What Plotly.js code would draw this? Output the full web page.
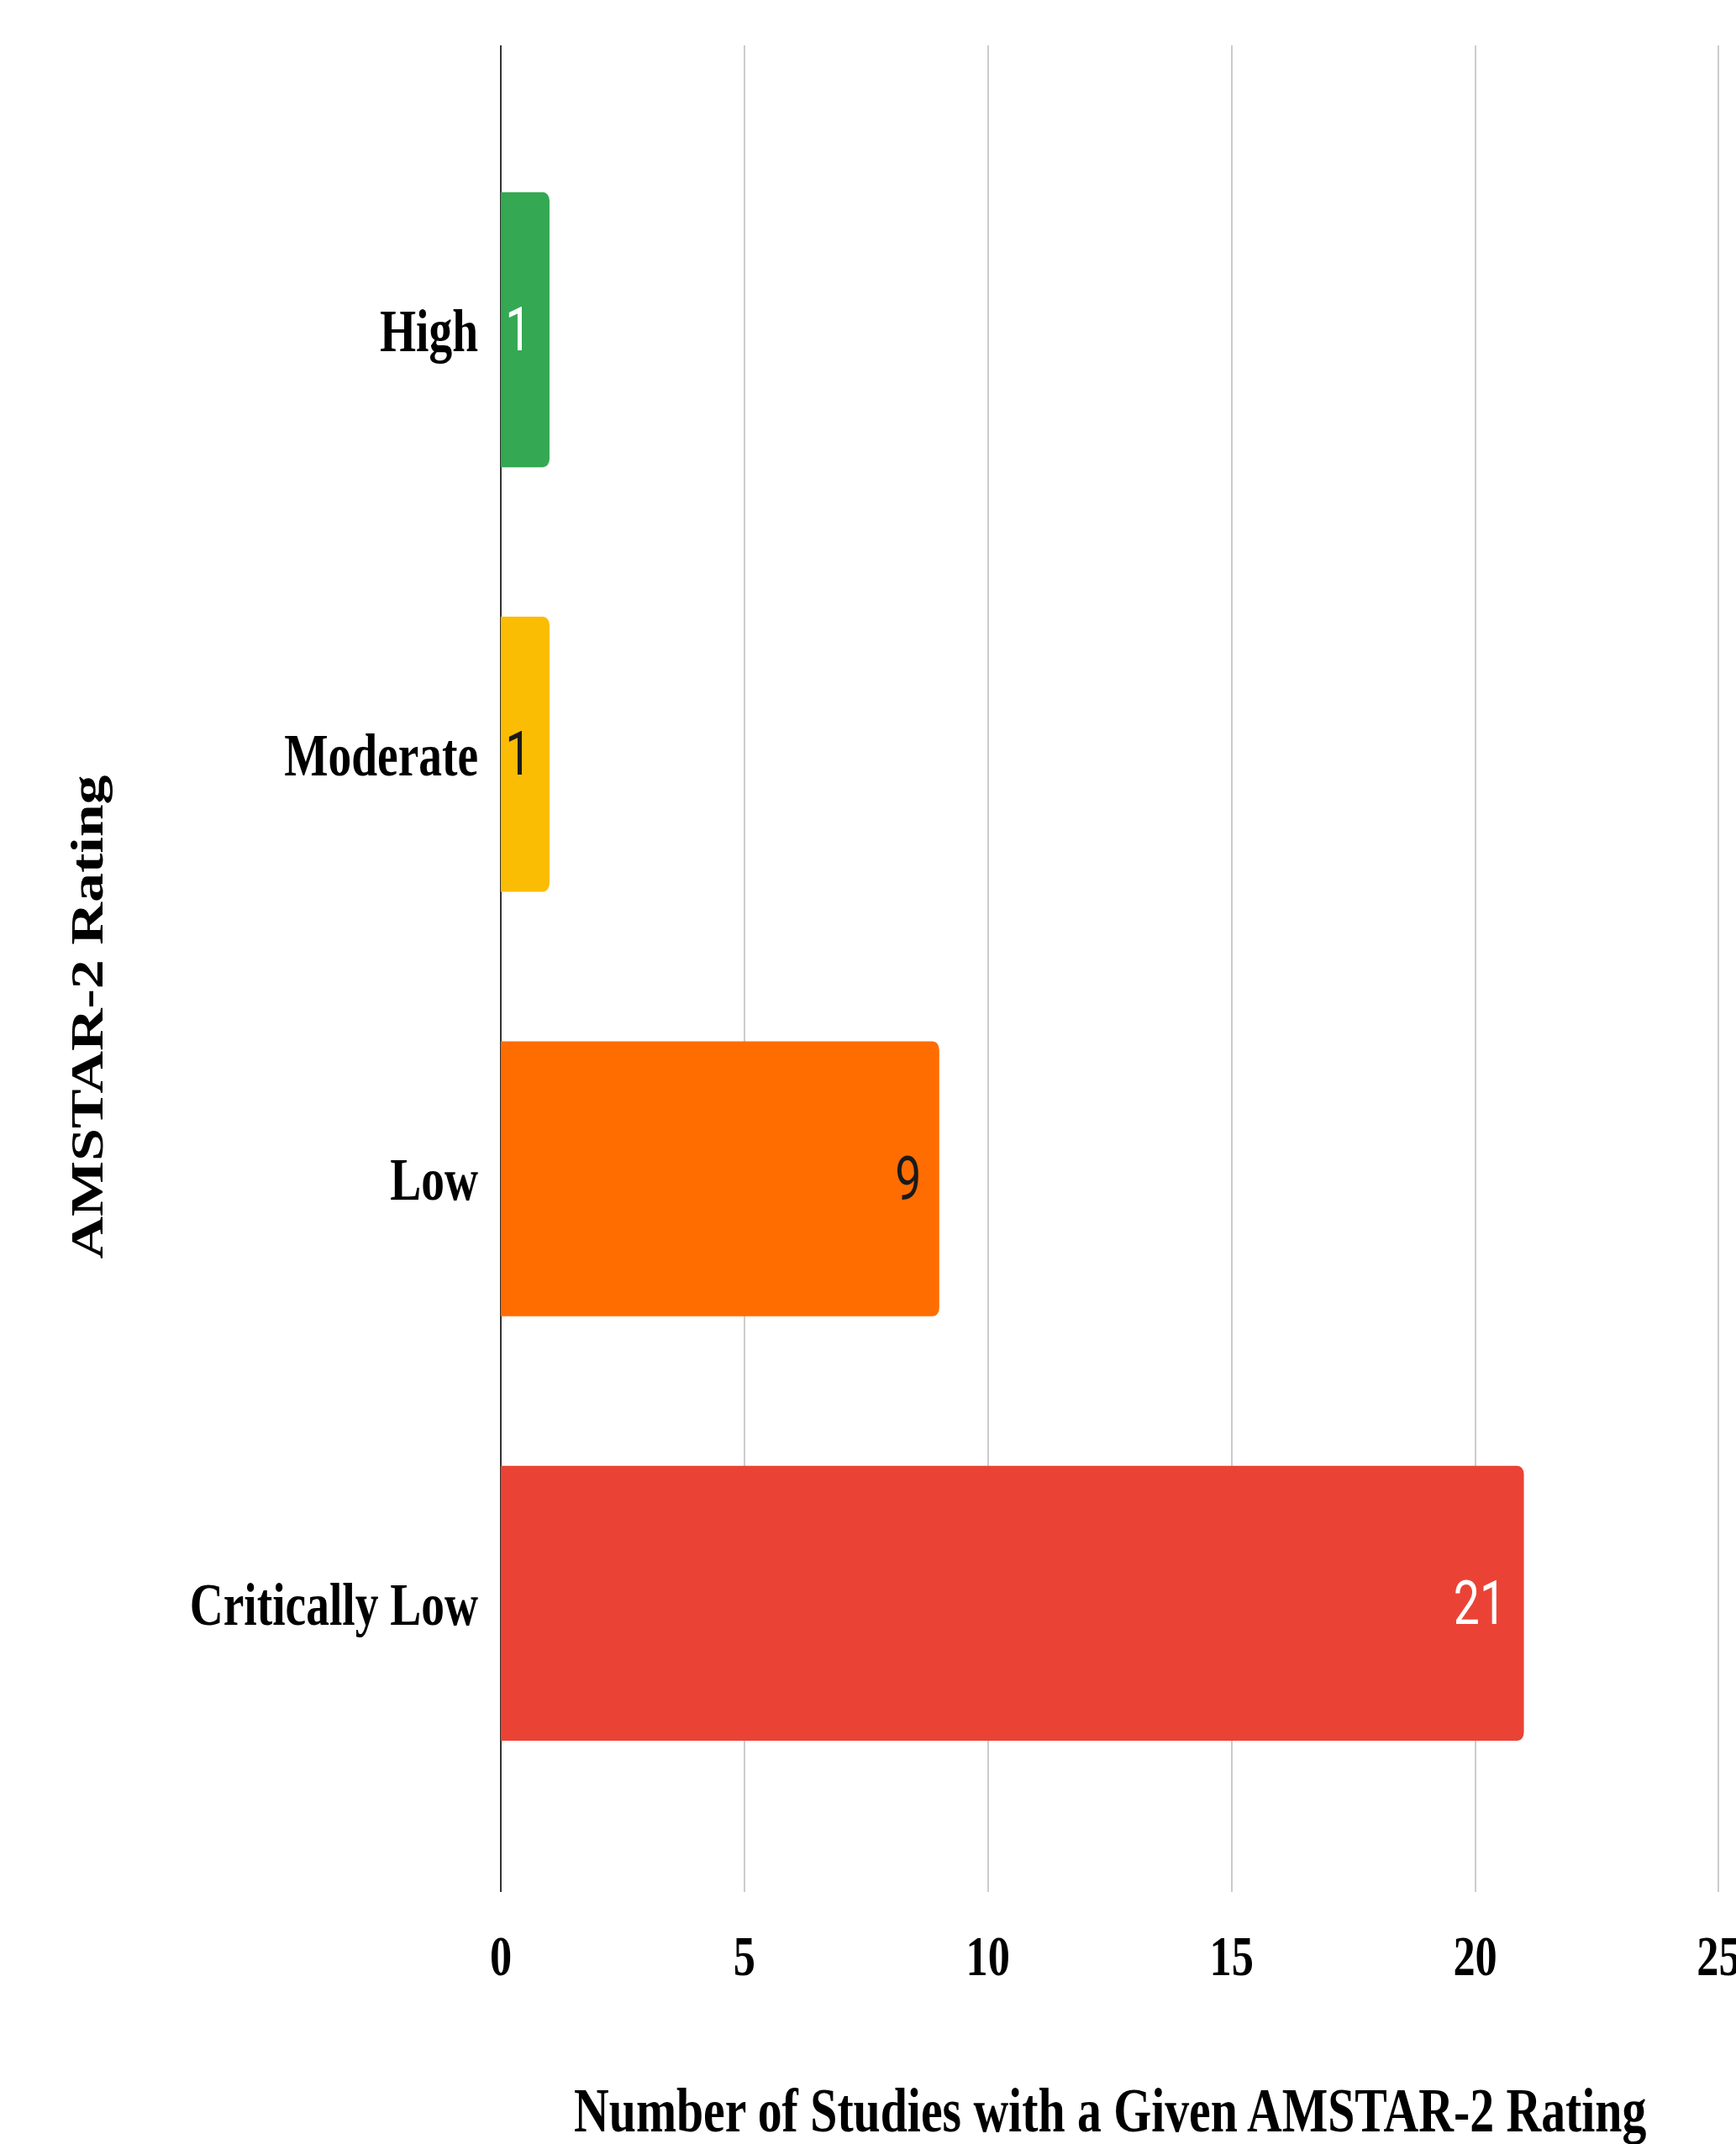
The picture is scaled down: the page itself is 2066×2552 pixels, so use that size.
<!DOCTYPE html>
<html>
<head>
<meta charset="utf-8">
<script src="https://cdn.plot.ly/plotly-3.0.1.min.js"></script>
<style>
  html, body { margin: 0; padding: 0; background: #ffffff; overflow: hidden; }
  #wrap { width: 2066px; height: 2552px; overflow: hidden; }
  #chart { width: 2683px; height: 2552px; transform: scaleX(0.77); transform-origin: 0 0; }
</style>
</head>
<body>
<div id="wrap"><div id="chart"></div></div>
<script>
// ---- data ----
const categories = ['Critically Low', 'Low', 'Moderate', 'High'];
const counts = [21, 9, 1, 1];
const barColors = ['#EA4335', '#FF6D01', '#FBBC04', '#34A853'];
const labelColors = ['#FFFFFF', '#1A1A1A', '#1A1A1A', '#FFFFFF'];
const xTickValues = [0, 5, 10, 15, 20, 25];
const xTitle = 'Number of Studies with a Given AMSTAR-2 Rating';
const yTitle = 'AMSTAR-2 Rating';

const serif = 'Liberation Serif, Times New Roman, serif';

const trace = {
  type: 'bar',
  orientation: 'h',
  y: categories,
  x: counts,
  width: 0.648,
  marker: { color: barColors, cornerradius: 10, line: { width: 0 } },
  texttemplate: '%{x}\u00A0',
  textposition: 'inside',
  insidetextanchor: 'end',
  textangle: 0,
  insidetextfont: { family: 'Roboto, sans-serif', size: 72, color: labelColors },
  hoverinfo: 'none'
};

const layout = {
  width: 2683,
  height: 2552,
  margin: { l: 774, r: 24.5, t: 54, b: 300 },
  paper_bgcolor: '#ffffff',
  plot_bgcolor: '#ffffff',
  showlegend: false,
  xaxis: {
    range: [0, 25.02],
    autorange: false,
    tickvals: xTickValues,
    ticktext: xTickValues.map(String),
    showgrid: true,
    gridcolor: '#CCCCCC',
    gridwidth: 2.6,
    zeroline: true,
    zerolinecolor: '#333333',
    zerolinewidth: 3.2,
    showline: false,
    ticks: '',
    ticklabelstandoff: 30,
    ticklabeloverflow: 'allow',
    tickfont: { family: serif, size: 68, color: '#000000', weight: 'bold' }
  },
  yaxis: {
    type: 'category',
    categoryorder: 'array',
    categoryarray: categories,
    range: [-0.68, 3.67],
    autorange: false,
    showgrid: false,
    zeroline: false,
    showline: false,
    ticks: '',
    ticklabelstandoff: 34,
    tickfont: { family: serif, size: 72, color: '#000000', weight: 'bold' }
  },
  annotations: [{
    text: yTitle,
    xref: 'paper', yref: 'paper',
    x: -0.3394, y: 0.4736,
    xanchor: 'center', yanchor: 'middle',
    textangle: -90,
    showarrow: false,
    font: { family: serif, size: 70, color: '#000000', weight: 'bold' }
  }, {
    text: xTitle,
    xref: 'paper', yref: 'paper',
    x: 0.5, y: -0.118,
    xanchor: 'center', yanchor: 'middle',
    showarrow: false,
    font: { family: serif, size: 75, color: '#000000', weight: 'bold' }
  }]
};

Plotly.newPlot('chart', [trace], layout, { displayModeBar: false, staticPlot: true });
</script>
</body>
</html>
